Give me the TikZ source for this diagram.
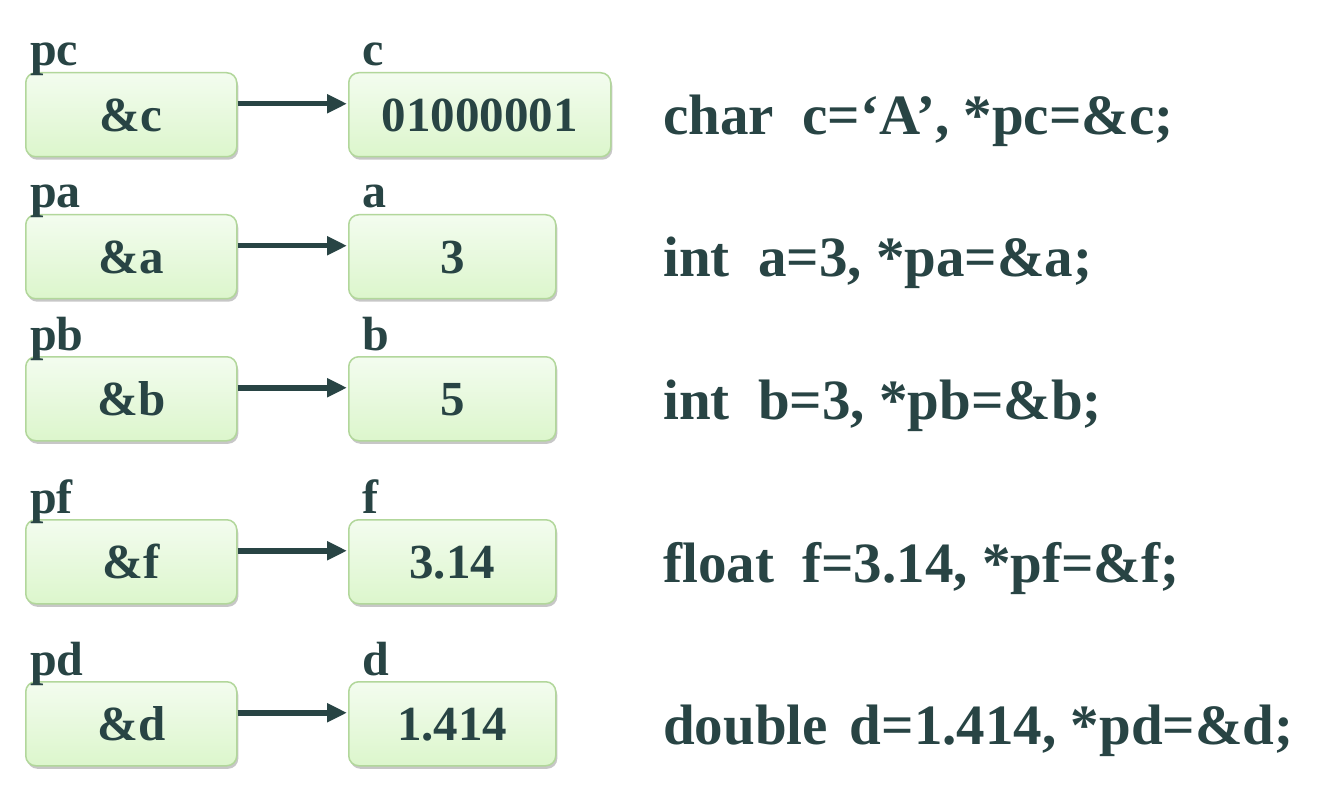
\documentclass[tikz,border=0pt]{standalone}
\usepackage{fontspec}
\setmainfont{Liberation Serif}
\usetikzlibrary{arrows.meta,shadows}
\definecolor{ink}{HTML}{284444}
\definecolor{boxtop}{HTML}{F3FCEF}
\definecolor{boxbot}{HTML}{DCF6CC}
\definecolor{boxline}{HTML}{B2D79B}
\begin{document}
\begin{tikzpicture}[x=1pt,y=-1pt,
  cell/.style={draw=boxline, line width=1.5pt, rounded corners=10pt,
    top color=boxtop, bottom color=boxbot, minimum height=84pt,
    inner sep=0pt, anchor=north west, text height=34pt, text depth=0pt,
    font=\fontsize{49}{49}\selectfont\bfseries, text=ink,
    drop shadow={shadow xshift=1.5pt, shadow yshift=-3pt, opacity=0.22, fill=black}},
  ptrbox/.style={cell, minimum width=211pt},
  valbox/.style={cell, minimum width=207pt},
  lbl/.style={anchor=base west, inner sep=0pt, font=\fontsize{48}{48}\selectfont\bfseries, text=ink},
  codeline/.style={anchor=base west, inner sep=0pt, font=\fontsize{57}{57}\selectfont\bfseries, text=ink},
  link/.style={-{Triangle[length=20pt,width=18pt]}, line width=5.5pt, draw=ink, shorten >=1pt}]
\fill[white] (0,0) rectangle (1337,791);
\useasboundingbox (0,0) rectangle (1337,791);
% row 1
\node[ptrbox] (pc) at (25,72) {\&c};
\node[valbox, minimum width=262pt] (c) at (348,72) {01000001};
\node[lbl] (pcl) at (30,66) {pc};
\node[lbl] (cl) at (362,66) {c};
\node[codeline] (cc) at (663,135) {char\ \ c=‘A’, *pc=\&c;};
% row 2
\node[ptrbox] (pa) at (25,214) {\&a};
\node[valbox] (a) at (348,214) {3};
\node[lbl] (pal) at (30,208) {pa};
\node[lbl] (al) at (362,208) {a};
\node[codeline] (ca) at (663,277) {int\ \ a=3, *pa=\&a;};
% row 3
\node[ptrbox] (pb) at (25,356) {\&b};
\node[valbox] (b) at (348,356) {5};
\node[lbl] (pbl) at (30,350) {pb};
\node[lbl] (bl) at (362,350) {b};
\node[codeline] (cb) at (663,419) {int\ \ b=3, *pb=\&b;};
% row 4
\node[ptrbox] (pf) at (25,519) {\&f};
\node[valbox] (f) at (348,519) {3.14};
\node[lbl] (pfl) at (30,513) {pf};
\node[lbl] (fl) at (362,513) {f};
\node[codeline] (cf) at (663,582) {float\ \ f=3.14, *pf=\&f;};
% row 5
\node[ptrbox] (pd) at (25,681) {\&d};
\node[valbox] (d) at (348,681) {1.414};
\node[lbl] (pdl) at (30,675) {pd};
\node[lbl] (dl) at (362,675) {d};
\node[codeline] (cd) at (663,744) {double\hspace{22pt}d=1.414, *pd=\&d;};
% arrows
\foreach \s/\t in {pc/c,pa/a,pb/b,pf/f,pd/d}
  \draw[link] ([yshift=11pt]\s.east) -- ([yshift=11pt]\t.west);
\end{tikzpicture}
\end{document}
